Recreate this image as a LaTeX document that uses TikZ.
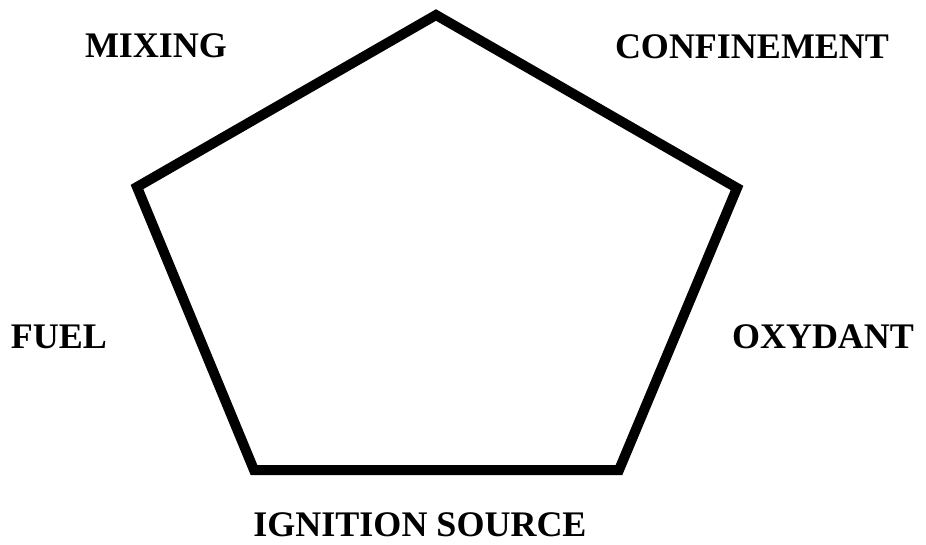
\documentclass[tikz,border=0pt]{standalone}
\usepackage{fontspec}
\setmainfont{Liberation Serif}
\begin{document}
\begin{tikzpicture}[x=1pt,y=-1pt,
  lbl/.style={inner sep=0pt,font=\fontsize{36}{40}\selectfont\bfseries},
  edge/.style={line width=10pt,line join=miter}]
\useasboundingbox (0,0) rectangle (926,544);
\coordinate (T) at (436,15);
\coordinate (R) at (737,188);
\coordinate (BR) at (619,470);
\coordinate (BL) at (254,470);
\coordinate (L) at (137,187);
\draw[edge] (T) -- (R) -- (BR) -- (BL) -- (L) -- cycle;
\node[lbl] (mix) at (156,46) {MIXING};
\node[lbl] (conf) at (752,47) {CONFINEMENT};
\node[lbl] (fuel) at (59,337) {FUEL};
\node[lbl] (oxy) at (823,337) {OXYDANT};
\node[lbl] (ign) at (420,525) {IGNITION SOURCE};
\end{tikzpicture}
\end{document}
